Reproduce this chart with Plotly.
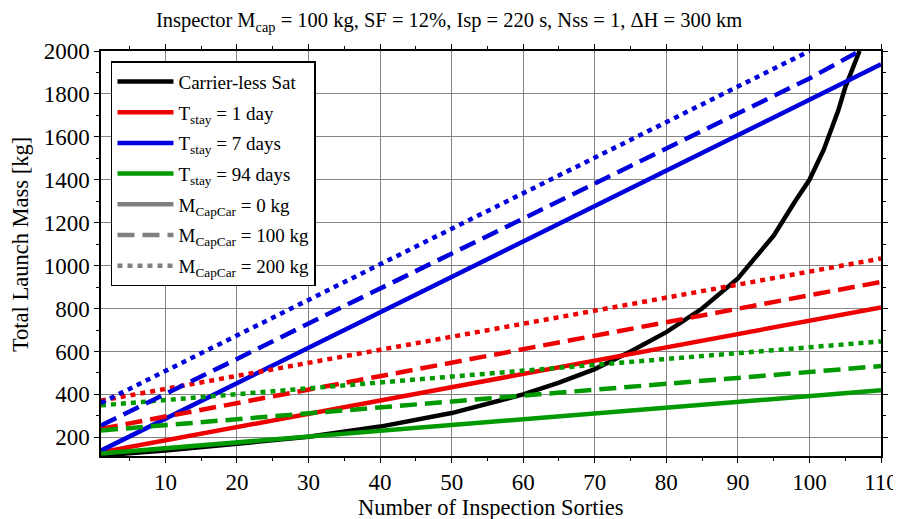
import plotly.graph_objects as go

# ---- data ----
x_lin = [1, 10, 20, 30, 40, 50, 60, 70, 80, 90, 100, 110]

red_0 = [130, 186, 248, 310, 371, 433, 495, 557, 619, 681, 743, 805]
red_100 = [240, 297, 359, 422, 485, 548, 610, 673, 736, 799, 862, 924]
red_200 = [371, 426, 486, 547, 608, 668, 729, 790, 851, 911, 972, 1033]

green_0 = [125, 149, 176, 203, 230, 257, 284, 311, 338, 365, 392, 419]
green_100 = [232, 257, 284, 312, 339, 367, 394, 422, 449, 477, 504, 532]
green_200 = [349, 374, 401, 428, 455, 483, 510, 537, 565, 592, 619, 647]

blue_0 = [138, 287, 452, 617, 782, 947, 1112, 1277, 1442, 1607, 1772, 1938]
x_blue_100 = [1, 10, 20, 30, 40, 50, 60, 70, 80, 90, 100, 107]
blue_100 = [255, 400, 565, 730, 893, 1055, 1218, 1380, 1545, 1710, 1872, 2000]
x_blue_200 = [1, 10, 20, 30, 40, 50, 60, 70, 80, 90, 100]
blue_200 = [360, 509, 675, 840, 1006, 1171, 1337, 1503, 1668, 1834, 2000]

x_black = [1, 10, 20, 30, 40, 45, 50, 60, 65, 70, 75, 80, 85, 90, 95, 98, 100, 102, 104, 105, 107]
black = [116, 138, 170, 203, 250, 280, 313, 400, 455, 518, 600, 690, 800, 940, 1140, 1300, 1400, 1540, 1720, 1830, 2000]

x_ticks = [10, 20, 30, 40, 50, 60, 70, 80, 90, 100, 110]
y_ticks = [200, 400, 600, 800, 1000, 1200, 1400, 1600, 1800, 2000]

FONT = "Liberation Serif, Times New Roman, serif"
W = 4.5
DASH = "17px,8px"
DOT = "5px,5px"

fig = go.Figure()
_g = [0]

def add(x, y, color, dash, name=None, show=False):
    grp = None
    if show:
        _g[0] += 1
        grp = "g%d" % _g[0]
    fig.add_trace(go.Scatter(x=x, y=y, mode="lines",
                             line=dict(color=color, width=W, dash=dash),
                             name=name if name else "series", showlegend=show,
                             legendgroup=grp, hoverinfo="skip"))

# data traces
add(x_black, black, "black", "solid", "Carrier-less Sat", True)
add(x_lin, red_0, "#ee0000", "solid", "T<sub>stay</sub> = 1 day", True)
add(x_lin, blue_0, "#0000dd", "solid", "T<sub>stay</sub> = 7 days", True)
add(x_lin, green_0, "#009900", "solid", "T<sub>stay</sub> = 94 days", True)
add([None], [None], "#808080", "solid", "M<sub>CapCar</sub> = 0 kg", True)
add([None], [None], "#808080", DASH, "M<sub>CapCar</sub> = 100 kg", True)
add([None], [None], "#808080", DOT, "M<sub>CapCar</sub> = 200 kg", True)
add(x_lin, red_100, "#ee0000", DASH)
add(x_lin, red_200, "#ee0000", DOT)
add(x_lin, green_100, "#009900", DASH)
add(x_lin, green_200, "#009900", DOT)
add(x_blue_100, blue_100, "#0000dd", DASH)
add(x_blue_200, blue_200, "#0000dd", DOT)

axis_common = dict(
    showline=True, linecolor="black", linewidth=1.5, mirror="ticks",
    ticks="outside", ticklen=5, tickcolor="black",
    showgrid=True, gridcolor="#858585", gridwidth=1,
    zeroline=False, automargin=False,
    tickfont=dict(family=FONT, size=23, color="black"),
)

fig.update_xaxes(range=[1, 110], tickvals=x_ticks,
                 minor=dict(ticks="outside", ticklen=3, dtick=5, tick0=0, showgrid=False),
                 **axis_common)
fig.update_yaxes(range=[113, 2000], tickvals=y_ticks,
                 minor=dict(ticks="outside", ticklen=3, dtick=100, tick0=0, showgrid=False),
                 **axis_common)

# the page body adds an 8 px offset, so the figure is 8 px smaller
fig.update_layout(
    width=893, height=511,
    margin=dict(l=93, r=20, t=43, b=63),
    paper_bgcolor="white", plot_bgcolor="white",
    title=dict(text="Inspector M<sub>cap</sub> = 100 kg, SF = 12%, Isp = 220 s, Nss = 1, \u0394H = 300 km",
               x=0.494, xanchor="center", y=0.976, yanchor="middle",
               font=dict(family=FONT, size=20.5, color="black")),
    legend=dict(x=0.0128, y=0.975, xanchor="left", yanchor="top",
                bgcolor="white", bordercolor="black", borderwidth=1.5,
                font=dict(family=FONT, size=19, color="black"),
                tracegroupgap=3, itemwidth=56),
    font=dict(family=FONT),
    annotations=[
        dict(text="Number of Inspection Sorties", xref="paper", yref="paper",
             x=0.5, y=-0.126, xanchor="center", yanchor="middle", showarrow=False,
             font=dict(family=FONT, size=22.5, color="black")),
        dict(text="Total Launch Mass [kg]", xref="paper", yref="paper",
             x=-0.104, y=0.523, xanchor="center", yanchor="middle", showarrow=False,
             textangle=-90, font=dict(family=FONT, size=22.5, color="black")),
    ],
)

fig.write_html("out.html")
